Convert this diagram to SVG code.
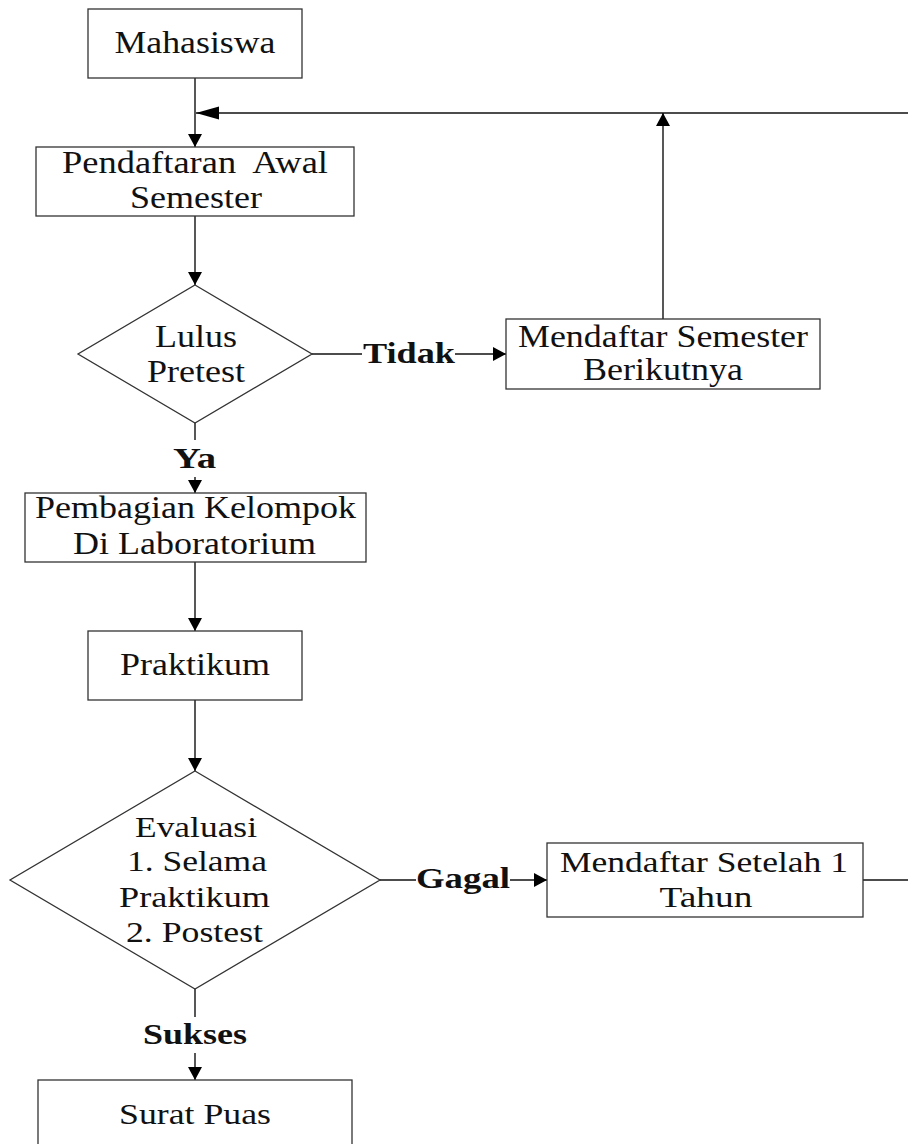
<svg xmlns="http://www.w3.org/2000/svg" width="908" height="1144" viewBox="0 0 908 1144">
<style>
.box{fill:#fff;stroke:#333;stroke-width:1.3}
.ln{fill:none;stroke:#111;stroke-width:1.4}
.t{font-family:"Liberation Serif","Times New Roman",serif;font-size:32px;fill:#111;text-anchor:middle}
.s{font-size:30px}
.b{font-weight:bold;text-anchor:start;font-size:30px}
</style>
<defs>
<marker id="ah" markerUnits="userSpaceOnUse" markerWidth="14" markerHeight="14" refX="13" refY="7" orient="auto">
<path d="M0,0 L13,7 L0,14 Z" fill="#000"/>
</marker>
<marker id="ahL" markerUnits="userSpaceOnUse" markerWidth="24" markerHeight="14" refX="23" refY="6.5" orient="auto">
<path d="M0,0 L23,6.5 L0,13 Z" fill="#000"/>
</marker>
</defs>
<rect width="908" height="1144" fill="#fff"/>
<g id="connectors">
<line class="ln" x1="195" y1="78" x2="195" y2="147" marker-end="url(#ah)"/>
<line class="ln" x1="908" y1="113" x2="196" y2="113" marker-end="url(#ahL)"/>
<line class="ln" x1="195" y1="216" x2="195" y2="285" marker-end="url(#ah)"/>
<line class="ln" x1="312" y1="354" x2="362" y2="354"/>
<line class="ln" x1="455" y1="354" x2="506" y2="354" marker-end="url(#ah)"/>
<line class="ln" x1="663" y1="319" x2="663" y2="113" marker-end="url(#ah)"/>
<line class="ln" x1="195" y1="423" x2="195" y2="440"/>
<line class="ln" x1="195" y1="477" x2="195" y2="493" marker-end="url(#ah)"/>
<line class="ln" x1="195" y1="562" x2="195" y2="631" marker-end="url(#ah)"/>
<line class="ln" x1="195" y1="700" x2="195" y2="771" marker-end="url(#ah)"/>
<line class="ln" x1="380" y1="880" x2="416" y2="880"/>
<line class="ln" x1="510" y1="880" x2="547" y2="880" marker-end="url(#ah)"/>
<line class="ln" x1="863" y1="880" x2="908" y2="880"/>
<line class="ln" x1="195" y1="989" x2="195" y2="1017"/>
<line class="ln" x1="195" y1="1053" x2="195" y2="1080" marker-end="url(#ah)"/>
<text class="t b" x="363" y="363" textLength="92" lengthAdjust="spacingAndGlyphs">Tidak</text>
<text class="t b" x="173" y="468" textLength="43" lengthAdjust="spacingAndGlyphs">Ya</text>
<text class="t b" x="416" y="888" textLength="94" lengthAdjust="spacingAndGlyphs">Gagal</text>
<text class="t b" x="143" y="1044" textLength="104" lengthAdjust="spacingAndGlyphs">Sukses</text>
</g>
<g id="mahasiswa">
<rect class="box" x="88" y="9" width="214" height="69"/>
<text class="t" x="195" y="53" textLength="161" lengthAdjust="spacingAndGlyphs">Mahasiswa</text>
</g>
<g id="pendaftaran">
<rect class="box" x="36" y="147" width="318" height="69"/>
<text class="t" x="195" y="173" textLength="266" lengthAdjust="spacingAndGlyphs" xml:space="preserve">Pendaftaran  Awal</text>
<text class="t" x="196" y="208" textLength="132" lengthAdjust="spacingAndGlyphs">Semester</text>
</g>
<g id="lulus">
<polygon class="box" points="195,285 312,354 195,423 78,354"/>
<text class="t" x="196" y="347" textLength="82" lengthAdjust="spacingAndGlyphs">Lulus</text>
<text class="t" x="196" y="382" textLength="98" lengthAdjust="spacingAndGlyphs">Pretest</text>
</g>
<g id="mendaftar-semester">
<rect class="box" x="506" y="319" width="314" height="70"/>
<text class="t" x="663" y="347" textLength="290" lengthAdjust="spacingAndGlyphs">Mendaftar Semester</text>
<text class="t" x="663" y="380" textLength="160" lengthAdjust="spacingAndGlyphs">Berikutnya</text>
</g>
<g id="pembagian">
<rect class="box" x="25" y="493" width="341" height="69"/>
<text class="t" x="195.5" y="518" textLength="321" lengthAdjust="spacingAndGlyphs">Pembagian Kelompok</text>
<text class="t" x="194.5" y="554" textLength="243" lengthAdjust="spacingAndGlyphs">Di Laboratorium</text>
</g>
<g id="praktikum">
<rect class="box" x="88" y="631" width="214" height="69"/>
<text class="t" x="195" y="675" textLength="150" lengthAdjust="spacingAndGlyphs">Praktikum</text>
</g>
<g id="evaluasi">
<polygon class="box" points="195,771 380,880 195,989 10,880"/>
<text class="t s" x="196" y="837" textLength="122" lengthAdjust="spacingAndGlyphs">Evaluasi</text>
<text class="t s" x="197" y="871" textLength="140" lengthAdjust="spacingAndGlyphs">1. Selama</text>
<text class="t s" x="194.5" y="907" textLength="151" lengthAdjust="spacingAndGlyphs">Praktikum</text>
<text class="t s" x="194.5" y="942" textLength="137" lengthAdjust="spacingAndGlyphs">2. Postest</text>
</g>
<g id="mendaftar-tahun">
<rect class="box" x="547" y="843" width="316" height="74"/>
<text class="t s" x="704" y="872" textLength="288" lengthAdjust="spacingAndGlyphs">Mendaftar Setelah 1</text>
<text class="t s" x="706" y="907" textLength="93" lengthAdjust="spacingAndGlyphs">Tahun</text>
</g>
<g id="surat-puas">
<rect class="box" x="38" y="1080" width="314" height="90"/>
<text class="t s" x="195" y="1124" textLength="152" lengthAdjust="spacingAndGlyphs">Surat Puas</text>
</g>
</svg>
